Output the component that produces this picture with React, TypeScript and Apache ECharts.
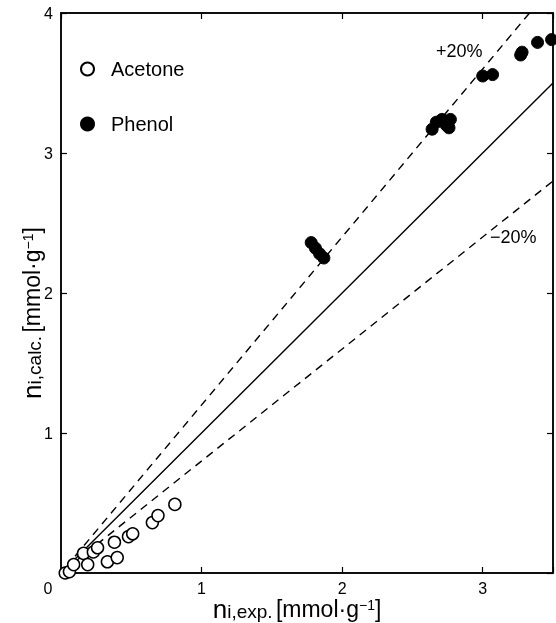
import React, { useEffect, useRef } from "react";
import * as echarts from "echarts";

const acetoneData: [number, number][] = [
  [0.03, 0.0], [0.06, 0.01], [0.09, 0.06], [0.16, 0.14], [0.19, 0.06],
  [0.23, 0.15], [0.26, 0.18], [0.33, 0.08], [0.4, 0.11], [0.38, 0.22],
  [0.48, 0.26], [0.51, 0.28], [0.65, 0.36], [0.69, 0.41], [0.81, 0.49],
];
const phenolData: [number, number][] = [
  [1.78, 2.36], [1.81, 2.32], [1.84, 2.28], [1.87, 2.25],
  [2.64, 3.17], [2.67, 3.22], [2.71, 3.24], [2.74, 3.2], [2.77, 3.24], [2.76, 3.18],
  [3.0, 3.55], [3.07, 3.56], [3.27, 3.7], [3.28, 3.72], [3.39, 3.79], [3.49, 3.81],
];
const idealLine: [number, number][] = [[0.1, 0.1], [3.5, 3.5]];
const plus20Line: [number, number][] = [[0.1, 0.12], [3.333, 4.0]];
const minus20Line: [number, number][] = [[0.1, 0.08], [3.5, 2.8]];
const xTicks = [0, 1, 2, 3];
const yTicks = [0, 1, 2, 3, 4];

const FONT = "Liberation Sans";

export default function App() {
  const ref = useRef<HTMLDivElement>(null);
  useEffect(() => {
    if (!ref.current) return;
    const chart = echarts.init(ref.current, null, { renderer: "svg" });
    const mkLine = () => ({ show: true, onZero: false, lineStyle: { color: "#000", width: 1.5 } });
    const mkTick = () => ({ show: true, inside: true, length: 6, lineStyle: { color: "#000", width: 1.2 } });
    const nameRich = {
      n: { fontSize: 26, fontFamily: FONT, color: "#000" },
      s: { fontSize: 19, fontFamily: FONT, color: "#000", padding: [5, 0, 0, 0] },
      b: { fontSize: 23, fontFamily: FONT, color: "#000" },
      p: { fontSize: 14, fontFamily: FONT, color: "#000", padding: [0, 0, 9, 0] },
    };
    chart.setOption({
      animation: false,
      grid: {
        left: 61,
        top: 13,
        right: 3,
        bottom: 50,
        show: true,
        borderColor: "#000",
        borderWidth: 1.5,
        backgroundColor: "transparent",
        containLabel: false,
        outerBoundsMode: "none",
      },
      legend: {
        data: ["Acetone", "Phenol"],
        orient: "vertical",
        left: 75,
        top: 54,
        itemWidth: 13,
        itemHeight: 13,
        itemGap: 35,
        textStyle: { fontSize: 20, fontFamily: FONT, color: "#000", padding: [0, 0, 0, 12] },
      },
      xAxis: [
        {
          type: "value",
          gridIndex: 0,
          min: 0,
          max: 3.5,
          interval: 1,
          position: "bottom",
          axisLine: mkLine(),
          axisTick: mkTick(),
          splitLine: { show: false },
          axisLabel: {
            fontSize: 16,
            fontFamily: FONT,
            color: "#000",
            margin: 7,
            formatter: (v: number) =>
              v === 0 ? "{z|0}" : xTicks.includes(v) ? String(v) : "",
            rich: { z: { fontSize: 16, fontFamily: FONT, color: "#000", padding: [0, 26, 0, 0] } },
          },
          name: "{n|n}{s|i,exp.} {b|[mmol·g}{p|−1}{b|]}",
          nameLocation: "middle",
          nameMoveOverlap: false,
          nameGap: 23,
          nameTextStyle: { rich: nameRich, padding: [0, 20, 0, 0] },
        },
        {
          type: "value",
          gridIndex: 0,
          show: true,
          min: 0,
          max: 3.5,
          interval: 1,
          position: "top",
          axisLine: mkLine(),
          axisTick: mkTick(),
          axisLabel: { show: false },
          splitLine: { show: false },
        },
      ],
      yAxis: [
        {
          type: "value",
          gridIndex: 0,
          min: 0,
          max: 4,
          interval: 1,
          position: "left",
          axisLine: mkLine(),
          axisTick: mkTick(),
          splitLine: { show: false },
          axisLabel: {
            fontSize: 16,
            fontFamily: FONT,
            color: "#000",
            margin: 8,
            formatter: (v: number) => (v !== 0 && yTicks.includes(v) ? String(v) : ""),
          },
          name: "{n|n}{s|i,calc.} {b|[mmol·g}{p|−1}{b|]}",
          nameLocation: "middle",
          nameRotate: 90,
          nameMoveOverlap: false,
          nameGap: 16,
          nameTextStyle: { rich: nameRich, padding: [0, 40, 0, 0] },
        },
        {
          type: "value",
          gridIndex: 0,
          show: true,
          min: 0,
          max: 4,
          interval: 1,
          position: "right",
          axisLine: mkLine(),
          axisTick: mkTick(),
          axisLabel: { show: false },
          splitLine: { show: false },
        },
      ],
      series: [
        {
          name: "ideal",
          type: "line",
          data: idealLine,
          symbol: "none",
          lineStyle: { color: "#000", width: 1.4 },
          z: 1,
        },
        {
          name: "+20%",
          type: "line",
          data: plus20Line,
          symbol: "none",
          lineStyle: { color: "#000", width: 1.4, type: [8, 6] },
          z: 1,
        },
        {
          name: "-20%",
          type: "line",
          data: minus20Line,
          symbol: "none",
          lineStyle: { color: "#000", width: 1.4, type: [8, 6] },
          z: 1,
        },
        {
          name: "Acetone",
          type: "scatter",
          data: acetoneData,
          symbol: "circle",
          symbolSize: 12,
          itemStyle: { color: "#fff", borderColor: "#000", borderWidth: 1.5, opacity: 1 },
          z: 3,
        },
        {
          name: "Phenol",
          type: "scatter",
          data: phenolData,
          symbol: "circle",
          symbolSize: 12,
          itemStyle: { color: "#000", borderColor: "#000", borderWidth: 1, opacity: 1 },
          z: 3,
        },
      ],
      graphic: [
        {
          type: "text",
          left: 436,
          top: 42,
          style: { text: "+20%", fontSize: 18, fontFamily: FONT, fill: "#000" },
        },
        {
          type: "text",
          left: 490,
          top: 228,
          style: { text: "−20%", fontSize: 18, fontFamily: FONT, fill: "#000" },
        },
      ],
    });
    return () => chart.dispose();
  }, []);
  return (
    <div
      ref={ref}
      style={{ position: "fixed", left: 0, top: 0, width: 556, height: 623 }}
    />
  );
}
